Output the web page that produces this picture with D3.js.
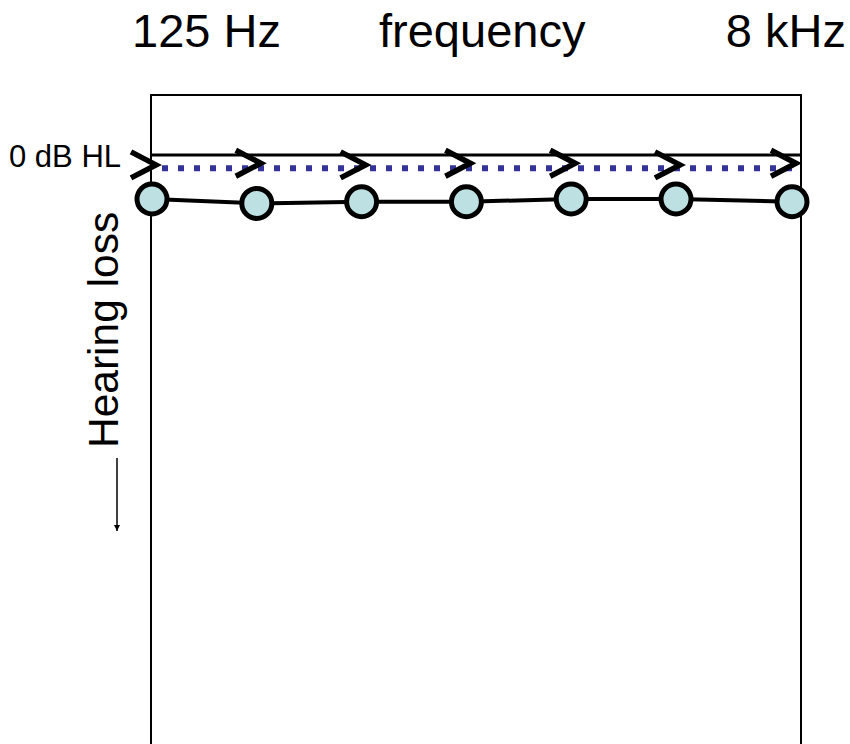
<!DOCTYPE html>
<html>
<head>
<meta charset="utf-8">
<script src="https://cdn.jsdelivr.net/npm/d3@7"></script>
<style>
  html, body { margin: 0; padding: 0; background: #fff; }
  svg { display: block; font-family: "Liberation Sans", Arial, sans-serif; }
</style>
</head>
<body>
<svg id="chart" width="850" height="744"></svg>
<script>
// ---- data ----
const frequencies = [125, 250, 500, 1000, 2000, 4000, 8000];      // Hz
const circleThresholds = [8, 8.8, 8.5, 8.5, 8, 8, 8.5];          // dB HL (circles)
const chevronThresholds = [1.8, 1.5, 1.8, 1.5, 1.5, 1.8, 1.5];    // dB HL (">" markers)
const referenceLevel = [0, 0];                                   // 0 dB HL solid line
const dottedLevel = [2.4, 2.4];                                  // dotted line level
const topLabels = ["125 Hz", "frequency", "8 kHz"];
const levelLabel = "0 dB HL";
const axisTitle = "Hearing loss";

// ---- layout ----
const svg = d3.select("#chart");
const frame = { left: 151, right: 801, top: 95, bottom: 770 };

// frequency axis (log), calibrated at 125 Hz, 4 kHz and 8 kHz
const x = d3.scaleLog().domain([125, 4000, 8000]).range([152, 676, 792]);
const y = d3.scaleLinear().domain([0, 100]).range([155, 705]);

// frame
svg.append("rect")
  .attr("x", frame.left).attr("y", frame.top)
  .attr("width", frame.right - frame.left)
  .attr("height", frame.bottom - frame.top)
  .attr("fill", "none").attr("stroke", "#000").attr("stroke-width", 2);

// top labels
svg.append("text").text(topLabels[0])
  .attr("x", 132).attr("y", 47).attr("font-size", 47).attr("fill", "#000");
svg.append("text").text(topLabels[1])
  .attr("x", 379).attr("y", 47).attr("font-size", 47).attr("fill", "#000");
svg.append("text").text(topLabels[2])
  .attr("x", 846).attr("y", 47).attr("font-size", 47).attr("text-anchor", "end").attr("fill", "#000");

// 0 dB HL label
svg.append("text").text(levelLabel)
  .attr("x", 9).attr("y", 167).attr("font-size", 31).attr("fill", "#000");

// vertical title
svg.append("text").text(axisTitle)
  .attr("transform", "translate(118,448) rotate(-90)")
  .attr("font-size", 42.5).attr("fill", "#000");

// arrow
svg.append("defs").append("marker")
  .attr("id", "ah").attr("viewBox", "0 0 10 10")
  .attr("refX", 10).attr("refY", 5)
  .attr("markerWidth", 6).attr("markerHeight", 7)
  .attr("markerUnits", "userSpaceOnUse")
  .attr("orient", "auto")
  .append("path").attr("d", "M0,0 L10,5 L0,10 Z").attr("fill", "#000");
svg.append("line")
  .attr("x1", 117).attr("x2", 117).attr("y1", 458).attr("y2", 531)
  .attr("stroke", "#000").attr("stroke-width", 1.5)
  .attr("marker-end", "url(#ah)");

// 0 dB HL solid reference line
svg.append("line")
  .attr("x1", frame.left).attr("x2", frame.right)
  .attr("y1", y(referenceLevel[0])).attr("y2", y(referenceLevel[1]))
  .attr("stroke", "#000").attr("stroke-width", 3);

// dotted blue line
svg.append("line")
  .attr("x1", 162).attr("x2", 797)
  .attr("y1", y(dottedLevel[0])).attr("y2", y(dottedLevel[1]))
  .attr("stroke", "#333399").attr("stroke-width", 6)
  .attr("stroke-dasharray", "6 10");

// chevrons ">"
const chevW = 25, chevH = 13;
svg.append("g").selectAll("path")
  .data(frequencies.map((f, i) => ({ f, v: chevronThresholds[i] })))
  .join("path")
  .attr("d", d => {
    const tx = x(d.f) + 4, ty = y(d.v);
    return `M${tx - chevW},${ty - chevH} L${tx},${ty} L${tx - chevW},${ty + chevH}`;
  })
  .attr("fill", "none").attr("stroke", "#000").attr("stroke-width", 5.5)
  .attr("stroke-linejoin", "miter");

// circle series line
const circleData = frequencies.map((f, i) => ({ f, v: circleThresholds[i] }));
svg.append("path")
  .datum(circleData)
  .attr("d", d3.line().x(d => x(d.f)).y(d => y(d.v)))
  .attr("fill", "none").attr("stroke", "#000").attr("stroke-width", 4);

svg.append("g").selectAll("circle")
  .data(circleData)
  .join("circle")
  .attr("cx", d => x(d.f)).attr("cy", d => y(d.v))
  .attr("r", 15)
  .attr("fill", "#bde0e2").attr("stroke", "#000").attr("stroke-width", 5);
</script>
</body>
</html>
